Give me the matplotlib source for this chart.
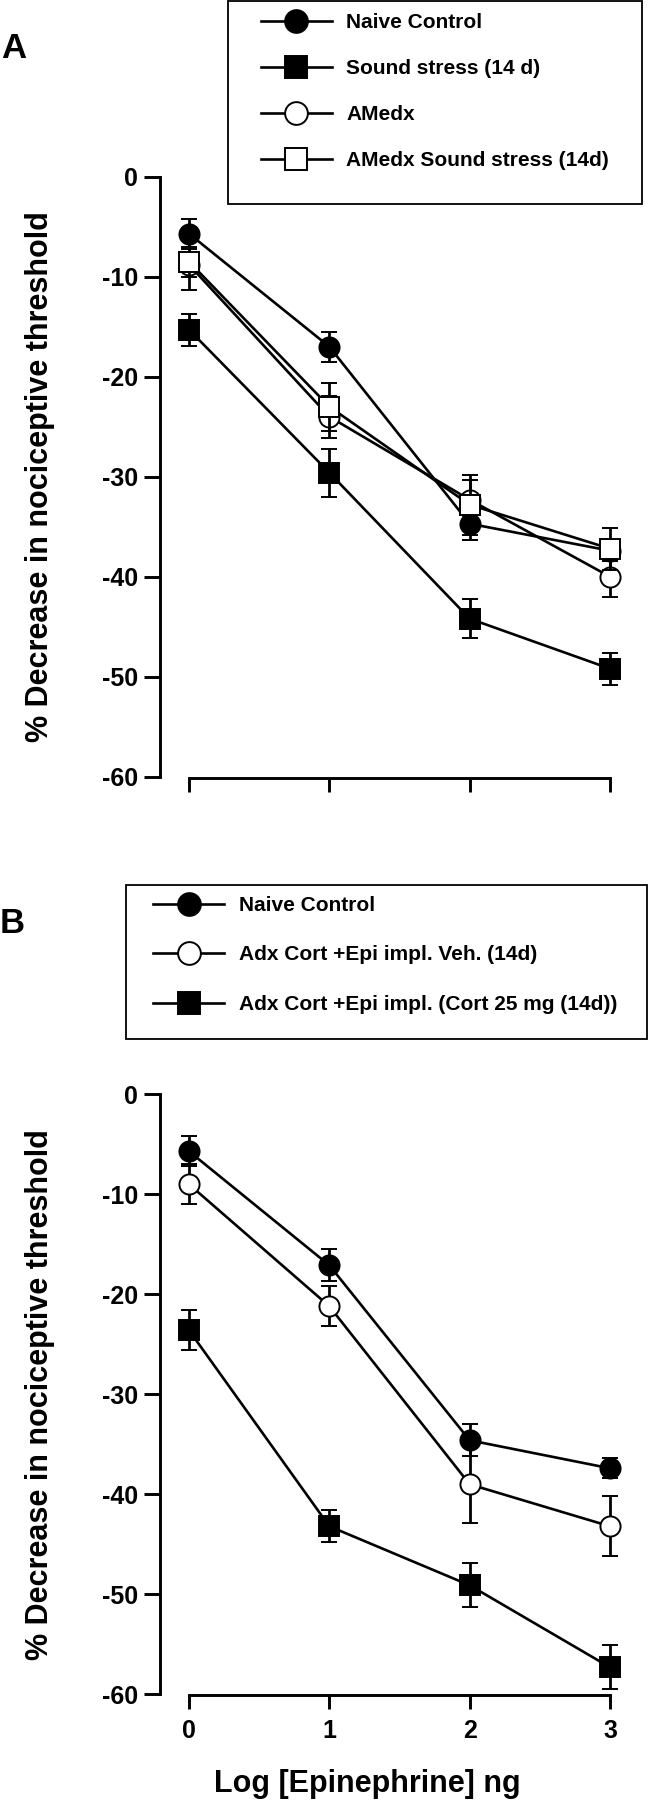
import matplotlib
matplotlib.use("Agg")
import matplotlib.pyplot as plt
from matplotlib.patches import Rectangle

plt.rcParams['font.family'] = ['Liberation Sans', 'DejaVu Sans']
plt.rcParams['font.weight'] = 'bold'
plt.rcParams['axes.unicode_minus'] = False

# ---------------- data ----------------
log_dose = [0, 1, 2, 3]
x_ticks = [0, 1, 2, 3]
y_ticks = [0, -10, -20, -30, -40, -50, -60]

# Panel A
labels_a = ["Naive Control", "Sound stress (14 d)", "AMedx", "AMedx Sound stress (14d)"]
naive_a = [-5.7, -17.0, -34.7, -37.4]
naive_a_err = [1.5, 1.5, 1.6, 1.0]
sound_a = [-15.3, -29.6, -44.2, -49.2]
sound_a_err = [1.6, 2.4, 1.95, 1.6]
amedx_a = [-8.8, -24.0, -32.3, -40.0]
amedx_a_err = [2.5, 2.1, 2.0, 2.0]
amedx_sound_a = [-8.5, -23.0, -32.8, -37.2]
amedx_sound_a_err = [1.5, 2.4, 3.0, 2.1]

# Panel B
labels_b = ["Naive Control", "Adx Cort +Epi impl. Veh. (14d)", "Adx Cort +Epi impl. (Cort 25 mg (14d))"]
naive_b = [-5.7, -17.1, -34.6, -37.4]
naive_b_err = [1.5, 1.6, 1.6, 1.0]
veh_b = [-9.0, -21.2, -39.0, -43.2]
veh_b_err = [2.0, 2.0, 3.9, 3.0]
cort_b = [-23.6, -43.2, -49.1, -57.3]
cort_b_err = [2.0, 1.6, 2.2, 2.2]

# ---------------- figure ----------------
W, H = 659, 1800
fig = plt.figure(figsize=(W / 100, H / 100), dpi=100)

ax_left = 160 / W
ax_width = 480 / W
xmin = -29 / 140.33
xmax = 3 + 30 / 140.33

axA = fig.add_axes([ax_left, (H - 776.7) / H, ax_width, 600 / H])
axB = fig.add_axes([ax_left, (H - 1694.3) / H, ax_width, 600 / H])

styles = {
    'filled_circle': dict(marker='o', mfc='black', mec='black'),
    'filled_square': dict(marker='s', mfc='black', mec='black'),
    'open_circle': dict(marker='o', mfc='white', mec='black'),
    'open_square': dict(marker='s', mfc='white', mec='black'),
}

def draw(ax, series):
    handles = []
    for i, (y, e, st) in enumerate(series):
        c = ax.errorbar(log_dose, y, yerr=e, color='black', lw=1.9,
                        ms=14.5, mew=1.4, elinewidth=2.0, capsize=5.5, capthick=2.0,
                        zorder=3 + i, clip_on=False, **styles[st])
        for art in c.lines[1]:
            art.set_clip_on(False)
        for art in c.lines[2]:
            art.set_clip_on(False)
        handles.append(c[0])
    return handles

hA = draw(axA, [(naive_a, naive_a_err, 'filled_circle'),
                (sound_a, sound_a_err, 'filled_square'),
                (amedx_a, amedx_a_err, 'open_circle'),
                (amedx_sound_a, amedx_sound_a_err, 'open_square')])
hB = draw(axB, [(naive_b, naive_b_err, 'filled_circle'),
                (veh_b, veh_b_err, 'open_circle'),
                (cort_b, cort_b_err, 'filled_square')])

for ax in (axA, axB):
    ax.set_xlim(xmin, xmax)
    ax.set_ylim(-60, 0)
    ax.set_facecolor('none')
    for s in ('top', 'right'):
        ax.spines[s].set_visible(False)
    ax.spines['left'].set_bounds(-60, 0)
    ax.spines['bottom'].set_bounds(0, 3)
    ax.spines['bottom'].set_position(('outward', 0.8))
    for s in ('left', 'bottom'):
        ax.spines[s].set_linewidth(2.1)
    ax.set_yticks(y_ticks)
    ax.set_yticklabels([str(t) for t in y_ticks])
    ax.set_xticks(x_ticks)
    ax.tick_params(axis='y', direction='out', length=11.5, width=2.1, pad=4.5,
                   labelsize=18)
    ax.tick_params(axis='x', direction='out', length=10, width=2.1, pad=7,
                   labelsize=18)
    ax.set_ylabel("% Decrease in nociceptive threshold", fontsize=22, fontweight='bold')
    ax.yaxis.set_label_coords((55 - 160) / 480, 0.5)

axA.tick_params(axis='x', labelbottom=False)
axB.set_xticklabels([str(t) for t in x_ticks])
axB.set_xlabel("Log [Epinephrine] ng", fontsize=22, fontweight='bold')
axB.xaxis.set_label_coords((367.5 - 160) / 480, -(1769 - 1694.3) / 600)

# panel letters
fig.text(0.002, 1 - 32 / H, "A", fontsize=25, fontweight='bold', va='top', ha='left')
fig.text(0.0, 1 - 907 / H, "B", fontsize=25, fontweight='bold', va='top', ha='left')

# legends (frameless, with box drawn as rectangle in figure pixels)
def legend(handles, labels, x_line, y_top, spacing):
    lg = fig.legend(handles, labels, loc='upper left',
                    bbox_to_anchor=(x_line / W, 1 - y_top / H),
                    bbox_transform=fig.transFigure,
                    frameon=False, borderpad=0, borderaxespad=0,
                    fontsize=15, handlelength=3.42, handletextpad=0.7,
                    labelspacing=spacing, numpoints=1, markerscale=1.13)
    for t in lg.get_texts():
        t.set_fontweight('bold')
    return lg

legend(hA, labels_a, 260.5, 13, 1.3)
legend(hB, labels_b, 153, 896, 1.46)

fig.add_artist(Rectangle((228 / W, 1 - 204 / H), (642 - 228) / W, (204 - 1) / H,
                         transform=fig.transFigure, fill=False, lw=1.3, ec='black'))
fig.add_artist(Rectangle((126 / W, 1 - 1039 / H), (647 - 126) / W, (1039 - 885) / H,
                         transform=fig.transFigure, fill=False, lw=1.3, ec='black'))

fig.savefig("out.png", dpi=100, facecolor='white')
